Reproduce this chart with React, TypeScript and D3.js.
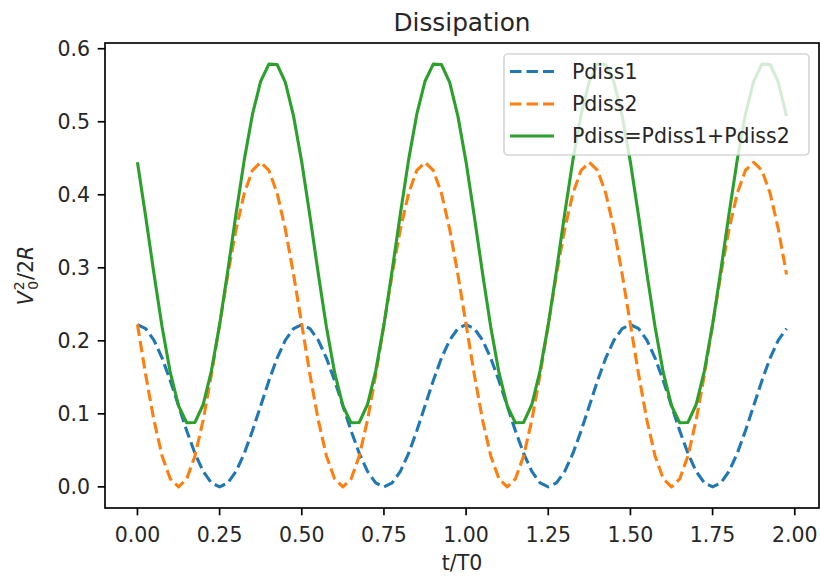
import React from "react";
import * as d3 from "d3";

// Sample times (t/T0)
const tValues: number[] = [
  0, 0.025, 0.05, 0.075, 0.1, 0.125, 0.15, 0.175, 0.2, 0.225,
  0.25, 0.275, 0.3, 0.325, 0.35, 0.375, 0.4, 0.425, 0.45, 0.475,
  0.5, 0.525, 0.55, 0.575, 0.6, 0.625, 0.65, 0.675, 0.7, 0.725,
  0.75, 0.775, 0.8, 0.825, 0.85, 0.875, 0.9, 0.925, 0.95, 0.975,
  1.0, 1.025, 1.05, 1.075, 1.1, 1.125, 1.15, 1.175, 1.2, 1.225,
  1.25, 1.275, 1.3, 1.325, 1.35, 1.375, 1.4, 1.425, 1.45, 1.475,
  1.5, 1.525, 1.55, 1.575, 1.6, 1.625, 1.65, 1.675, 1.7, 1.725,
  1.75, 1.775, 1.8, 1.825, 1.85, 1.875, 1.9, 1.925, 1.95, 1.975,
];

const pdiss1: number[] = [
  0.2222, 0.2168, 0.2010, 0.1764, 0.1454, 0.1111, 0.0768, 0.0458, 0.0212, 0.0054,
  0.0, 0.0054, 0.0212, 0.0458, 0.0768, 0.1111, 0.1454, 0.1764, 0.2010, 0.2168,
  0.2222, 0.2168, 0.2010, 0.1764, 0.1454, 0.1111, 0.0768, 0.0458, 0.0212, 0.0054,
  0.0, 0.0054, 0.0212, 0.0458, 0.0768, 0.1111, 0.1454, 0.1764, 0.2010, 0.2168,
  0.2222, 0.2168, 0.2010, 0.1764, 0.1454, 0.1111, 0.0768, 0.0458, 0.0212, 0.0054,
  0.0, 0.0054, 0.0212, 0.0458, 0.0768, 0.1111, 0.1454, 0.1764, 0.2010, 0.2168,
  0.2222, 0.2168, 0.2010, 0.1764, 0.1454, 0.1111, 0.0768, 0.0458, 0.0212, 0.0054,
  0.0, 0.0054, 0.0212, 0.0458, 0.0768, 0.1111, 0.1454, 0.1764, 0.2010, 0.2168,
];

const pdiss2: number[] = [
  0.2222, 0.1535, 0.0916, 0.0424, 0.0109, 0.0, 0.0109, 0.0424, 0.0916, 0.1535,
  0.2222, 0.2909, 0.3528, 0.4020, 0.4335, 0.4444, 0.4335, 0.4020, 0.3528, 0.2909,
  0.2222, 0.1535, 0.0916, 0.0424, 0.0109, 0.0, 0.0109, 0.0424, 0.0916, 0.1535,
  0.2222, 0.2909, 0.3528, 0.4020, 0.4335, 0.4444, 0.4335, 0.4020, 0.3528, 0.2909,
  0.2222, 0.1535, 0.0916, 0.0424, 0.0109, 0.0, 0.0109, 0.0424, 0.0916, 0.1535,
  0.2222, 0.2909, 0.3528, 0.4020, 0.4335, 0.4444, 0.4335, 0.4020, 0.3528, 0.2909,
  0.2222, 0.1535, 0.0916, 0.0424, 0.0109, 0.0, 0.0109, 0.0424, 0.0916, 0.1535,
  0.2222, 0.2909, 0.3528, 0.4020, 0.4335, 0.4444, 0.4335, 0.4020, 0.3528, 0.2909,
];

const pdissTotal: number[] = [
  0.4444, 0.3703, 0.2926, 0.2188, 0.1563, 0.1111, 0.0877, 0.0882, 0.1128, 0.1589,
  0.2222, 0.2963, 0.3740, 0.4478, 0.5103, 0.5555, 0.5789, 0.5784, 0.5538, 0.5077,
  0.4444, 0.3703, 0.2926, 0.2188, 0.1563, 0.1111, 0.0877, 0.0882, 0.1128, 0.1589,
  0.2222, 0.2963, 0.3740, 0.4478, 0.5103, 0.5555, 0.5789, 0.5784, 0.5538, 0.5077,
  0.4444, 0.3703, 0.2926, 0.2188, 0.1563, 0.1111, 0.0877, 0.0882, 0.1128, 0.1589,
  0.2222, 0.2963, 0.3740, 0.4478, 0.5103, 0.5555, 0.5789, 0.5784, 0.5538, 0.5077,
  0.4444, 0.3703, 0.2926, 0.2188, 0.1563, 0.1111, 0.0877, 0.0882, 0.1128, 0.1589,
  0.2222, 0.2963, 0.3740, 0.4478, 0.5103, 0.5555, 0.5789, 0.5784, 0.5538, 0.5077,
];

const xTicks: number[] = [0, 0.25, 0.5, 0.75, 1.0, 1.25, 1.5, 1.75, 2.0];
const xTickLabels: string[] = ["0.00", "0.25", "0.50", "0.75", "1.00", "1.25", "1.50", "1.75", "2.00"];
const yTicks: number[] = [0, 0.1, 0.2, 0.3, 0.4, 0.5, 0.6];
const yTickLabels: string[] = ["0.0", "0.1", "0.2", "0.3", "0.4", "0.5", "0.6"];

const seriesNames: string[] = ["Pdiss1", "Pdiss2", "Pdiss=Pdiss1+Pdiss2"];
const seriesColors: string[] = ["#1f77b4", "#ff7f0e", "#2ca02c"];
const seriesDashed: boolean[] = [true, true, false];

const W = 820;
const H = 577;
const plot = { left: 105, right: 819, top: 43, bottom: 508 };
const FONT = "'DejaVu Sans', sans-serif";
const TEXT = "#262626";
const DASH = "11.5 5";

export default function App() {
  const x = d3.scaleLinear().domain([-0.09875, 2.07375]).range([plot.left, plot.right]);
  const y = d3.scaleLinear().domain([-0.028945, 0.607845]).range([plot.bottom, plot.top]);

  const lineGen = d3
    .line<number>()
    .x((_, i) => x(tValues[i]))
    .y((d) => y(d));

  const allSeries = [pdiss1, pdiss2, pdissTotal];

  const legend = { x: 504, y: 54, w: 305, h: 101 };
  const rowY = [71.5, 104, 136];

  return (
    <svg width={W} height={H} style={{ display: "block", position: "absolute", left: 0, top: 0 }}>
      <rect x={0} y={0} width={W} height={H} fill="#fff" />
      <defs>
        <clipPath id="plot-clip">
          <rect x={plot.left} y={plot.top} width={plot.right - plot.left} height={plot.bottom - plot.top} />
        </clipPath>
      </defs>

      {/* data lines */}
      <g clipPath="url(#plot-clip)">
        {allSeries.map((s, k) => (
          <path
            key={k}
            d={lineGen(s) || ""}
            fill="none"
            stroke={seriesColors[k]}
            strokeWidth={3.1}
            strokeDasharray={seriesDashed[k] ? DASH : undefined}
            strokeLinejoin="round"
          />
        ))}
      </g>

      {/* frame */}
      <rect
        x={plot.left}
        y={plot.top}
        width={plot.right - plot.left}
        height={plot.bottom - plot.top}
        fill="none"
        stroke="#000"
        strokeWidth={1.67}
      />

      {/* x axis ticks */}
      {xTicks.map((v, i) => (
        <g key={"x" + i}>
          <line x1={x(v)} x2={x(v)} y1={plot.bottom} y2={plot.bottom + 7.3} stroke="#000" strokeWidth={1.67} />
          <text x={x(v)} y={542} textAnchor="middle" fontFamily={FONT} fontSize={20.5} fill={TEXT}>
            {xTickLabels[i]}
          </text>
        </g>
      ))}

      {/* y axis ticks */}
      {yTicks.map((v, i) => (
        <g key={"y" + i}>
          <line x1={plot.left - 7.3} x2={plot.left} y1={y(v)} y2={y(v)} stroke="#000" strokeWidth={1.67} />
          <text
            x={plot.left - 15}
            y={y(v)}
            dy="0.36em"
            textAnchor="end"
            fontFamily={FONT}
            fontSize={20.5}
            fill={TEXT}
          >
            {yTickLabels[i]}
          </text>
        </g>
      ))}

      {/* title */}
      <text x={(plot.left + plot.right) / 2} y={30.5} textAnchor="middle" fontFamily={FONT} fontSize={24.8} fill={TEXT}>
        Dissipation
      </text>

      {/* x label */}
      <text x={(plot.left + plot.right) / 2} y={570} textAnchor="middle" fontFamily={FONT} fontSize={20.5} fill={TEXT}>
        t/T0
      </text>

      {/* y label: V_0^2 / 2R */}
      <g transform={`translate(33, ${(plot.top + plot.bottom) / 2}) rotate(-90)`}>
        <text x={0} y={0} textAnchor="middle" fontFamily={FONT} fontSize={20.5} fill={TEXT}>
          <tspan fontStyle="italic">V</tspan>
          <tspan fontSize={14} dx={1} dy={-9}>2</tspan>
          <tspan fontSize={14} dx={-8.5} dy={14}>0</tspan>
          <tspan dx={1} dy={-5}>/2</tspan>
          <tspan fontStyle="italic">R</tspan>
        </text>
      </g>

      {/* legend */}
      <rect
        x={legend.x}
        y={legend.y}
        width={legend.w}
        height={legend.h}
        rx={4}
        ry={4}
        fill="#fff"
        fillOpacity={0.8}
        stroke="#cccccc"
        strokeOpacity={0.8}
        strokeWidth={1.67}
      />
      {seriesNames.map((name, k) => (
        <g key={"lg" + k}>
          <line
            x1={510}
            x2={554}
            y1={rowY[k]}
            y2={rowY[k]}
            stroke={seriesColors[k]}
            strokeWidth={3.1}
            strokeDasharray={seriesDashed[k] ? DASH : undefined}
          />
          <text x={572} y={rowY[k]} dy="0.36em" fontFamily={FONT} fontSize={20.5} fill={TEXT}>
            {name}
          </text>
        </g>
      ))}
    </svg>
  );
}
